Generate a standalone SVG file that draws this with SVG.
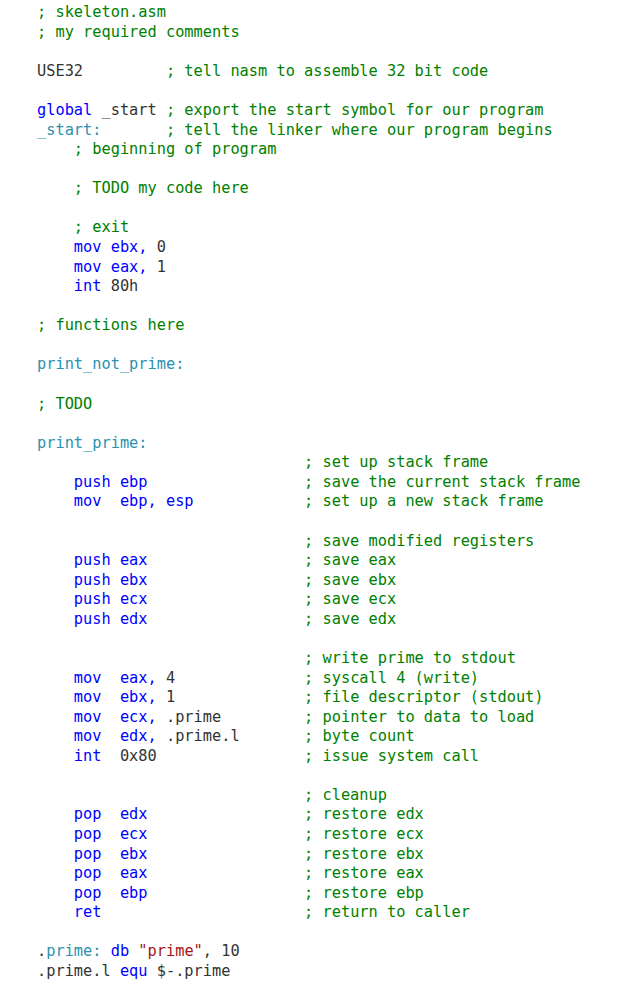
<svg xmlns="http://www.w3.org/2000/svg" width="622" height="996" viewBox="0 0 622 996">
<style>
text{font-family:"DejaVu Sans Mono","Liberation Mono",monospace;font-size:15.3px;fill:#333;white-space:pre}
.c{fill:#008000}.k{fill:#0000ff}.l{fill:#2b91af}.s{fill:#a31515}
</style>
<rect width="622" height="996" fill="#fff"/>
<g id="code" xml:space="preserve">
<text x="37" y="17" class="c">; skeleton.asm</text>
<text x="37" y="36.6" class="c">; my required comments</text>
<text x="37" y="75.7">USE32         <tspan class="c">; tell nasm to assemble 32 bit code</tspan></text>
<text x="37" y="114.9"><tspan class="k">global</tspan> _start <tspan class="c">; export the start symbol for our program</tspan></text>
<text x="37" y="134.5"><tspan class="l">_start:</tspan>       <tspan class="c">; tell the linker where our program begins</tspan></text>
<text x="37" y="154" class="c">    ; beginning of program</text>
<text x="37" y="193.2" class="c">    ; TODO my code here</text>
<text x="37" y="232.3" class="c">    ; exit</text>
<text x="37" y="251.9">    <tspan class="k">mov ebx,</tspan> 0</text>
<text x="37" y="271.5">    <tspan class="k">mov eax,</tspan> 1</text>
<text x="37" y="291">    <tspan class="k">int</tspan> 80h</text>
<text x="37" y="330.2" class="c">; functions here</text>
<text x="37" y="369.3" class="l">print_not_prime:</text>
<text x="37" y="408.5" class="c">; TODO</text>
<text x="37" y="447.6" class="l">print_prime:</text>
<text x="37" y="467.2" class="c">                             ; set up stack frame</text>
<text x="37" y="486.8">    <tspan class="k">push ebp</tspan>                 <tspan class="c">; save the current stack frame</tspan></text>
<text x="37" y="506.3">    <tspan class="k">mov  ebp, esp</tspan>            <tspan class="c">; set up a new stack frame</tspan></text>
<text x="37" y="545.5" class="c">                             ; save modified registers</text>
<text x="37" y="565">    <tspan class="k">push eax</tspan>                 <tspan class="c">; save eax</tspan></text>
<text x="37" y="584.6">    <tspan class="k">push ebx</tspan>                 <tspan class="c">; save ebx</tspan></text>
<text x="37" y="604.2">    <tspan class="k">push ecx</tspan>                 <tspan class="c">; save ecx</tspan></text>
<text x="37" y="623.7">    <tspan class="k">push edx</tspan>                 <tspan class="c">; save edx</tspan></text>
<text x="37" y="662.9" class="c">                             ; write prime to stdout</text>
<text x="37" y="682.5">    <tspan class="k">mov  eax,</tspan> 4              <tspan class="c">; syscall 4 (write)</tspan></text>
<text x="37" y="702">    <tspan class="k">mov  ebx,</tspan> 1              <tspan class="c">; file descriptor (stdout)</tspan></text>
<text x="37" y="721.6">    <tspan class="k">mov  ecx,</tspan> .prime         <tspan class="c">; pointer to data to load</tspan></text>
<text x="37" y="741.2">    <tspan class="k">mov  edx,</tspan> .prime.l       <tspan class="c">; byte count</tspan></text>
<text x="37" y="760.7">    <tspan class="k">int</tspan>  0x80                <tspan class="c">; issue system call</tspan></text>
<text x="37" y="799.9" class="c">                             ; cleanup</text>
<text x="37" y="819.4">    <tspan class="k">pop  edx</tspan>                 <tspan class="c">; restore edx</tspan></text>
<text x="37" y="839">    <tspan class="k">pop  ecx</tspan>                 <tspan class="c">; restore ecx</tspan></text>
<text x="37" y="858.6">    <tspan class="k">pop  ebx</tspan>                 <tspan class="c">; restore ebx</tspan></text>
<text x="37" y="878.1">    <tspan class="k">pop  eax</tspan>                 <tspan class="c">; restore eax</tspan></text>
<text x="37" y="897.7">    <tspan class="k">pop  ebp</tspan>                 <tspan class="c">; restore ebp</tspan></text>
<text x="37" y="917.3">    <tspan class="k">ret</tspan>                      <tspan class="c">; return to caller</tspan></text>
<text x="37" y="956.4">.<tspan class="l">prime:</tspan> <tspan class="k">db</tspan> <tspan class="s">"prime"</tspan>, 10</text>
<text x="37" y="976">.prime.l <tspan class="k">equ</tspan> $-.prime</text>
</g>
</svg>
